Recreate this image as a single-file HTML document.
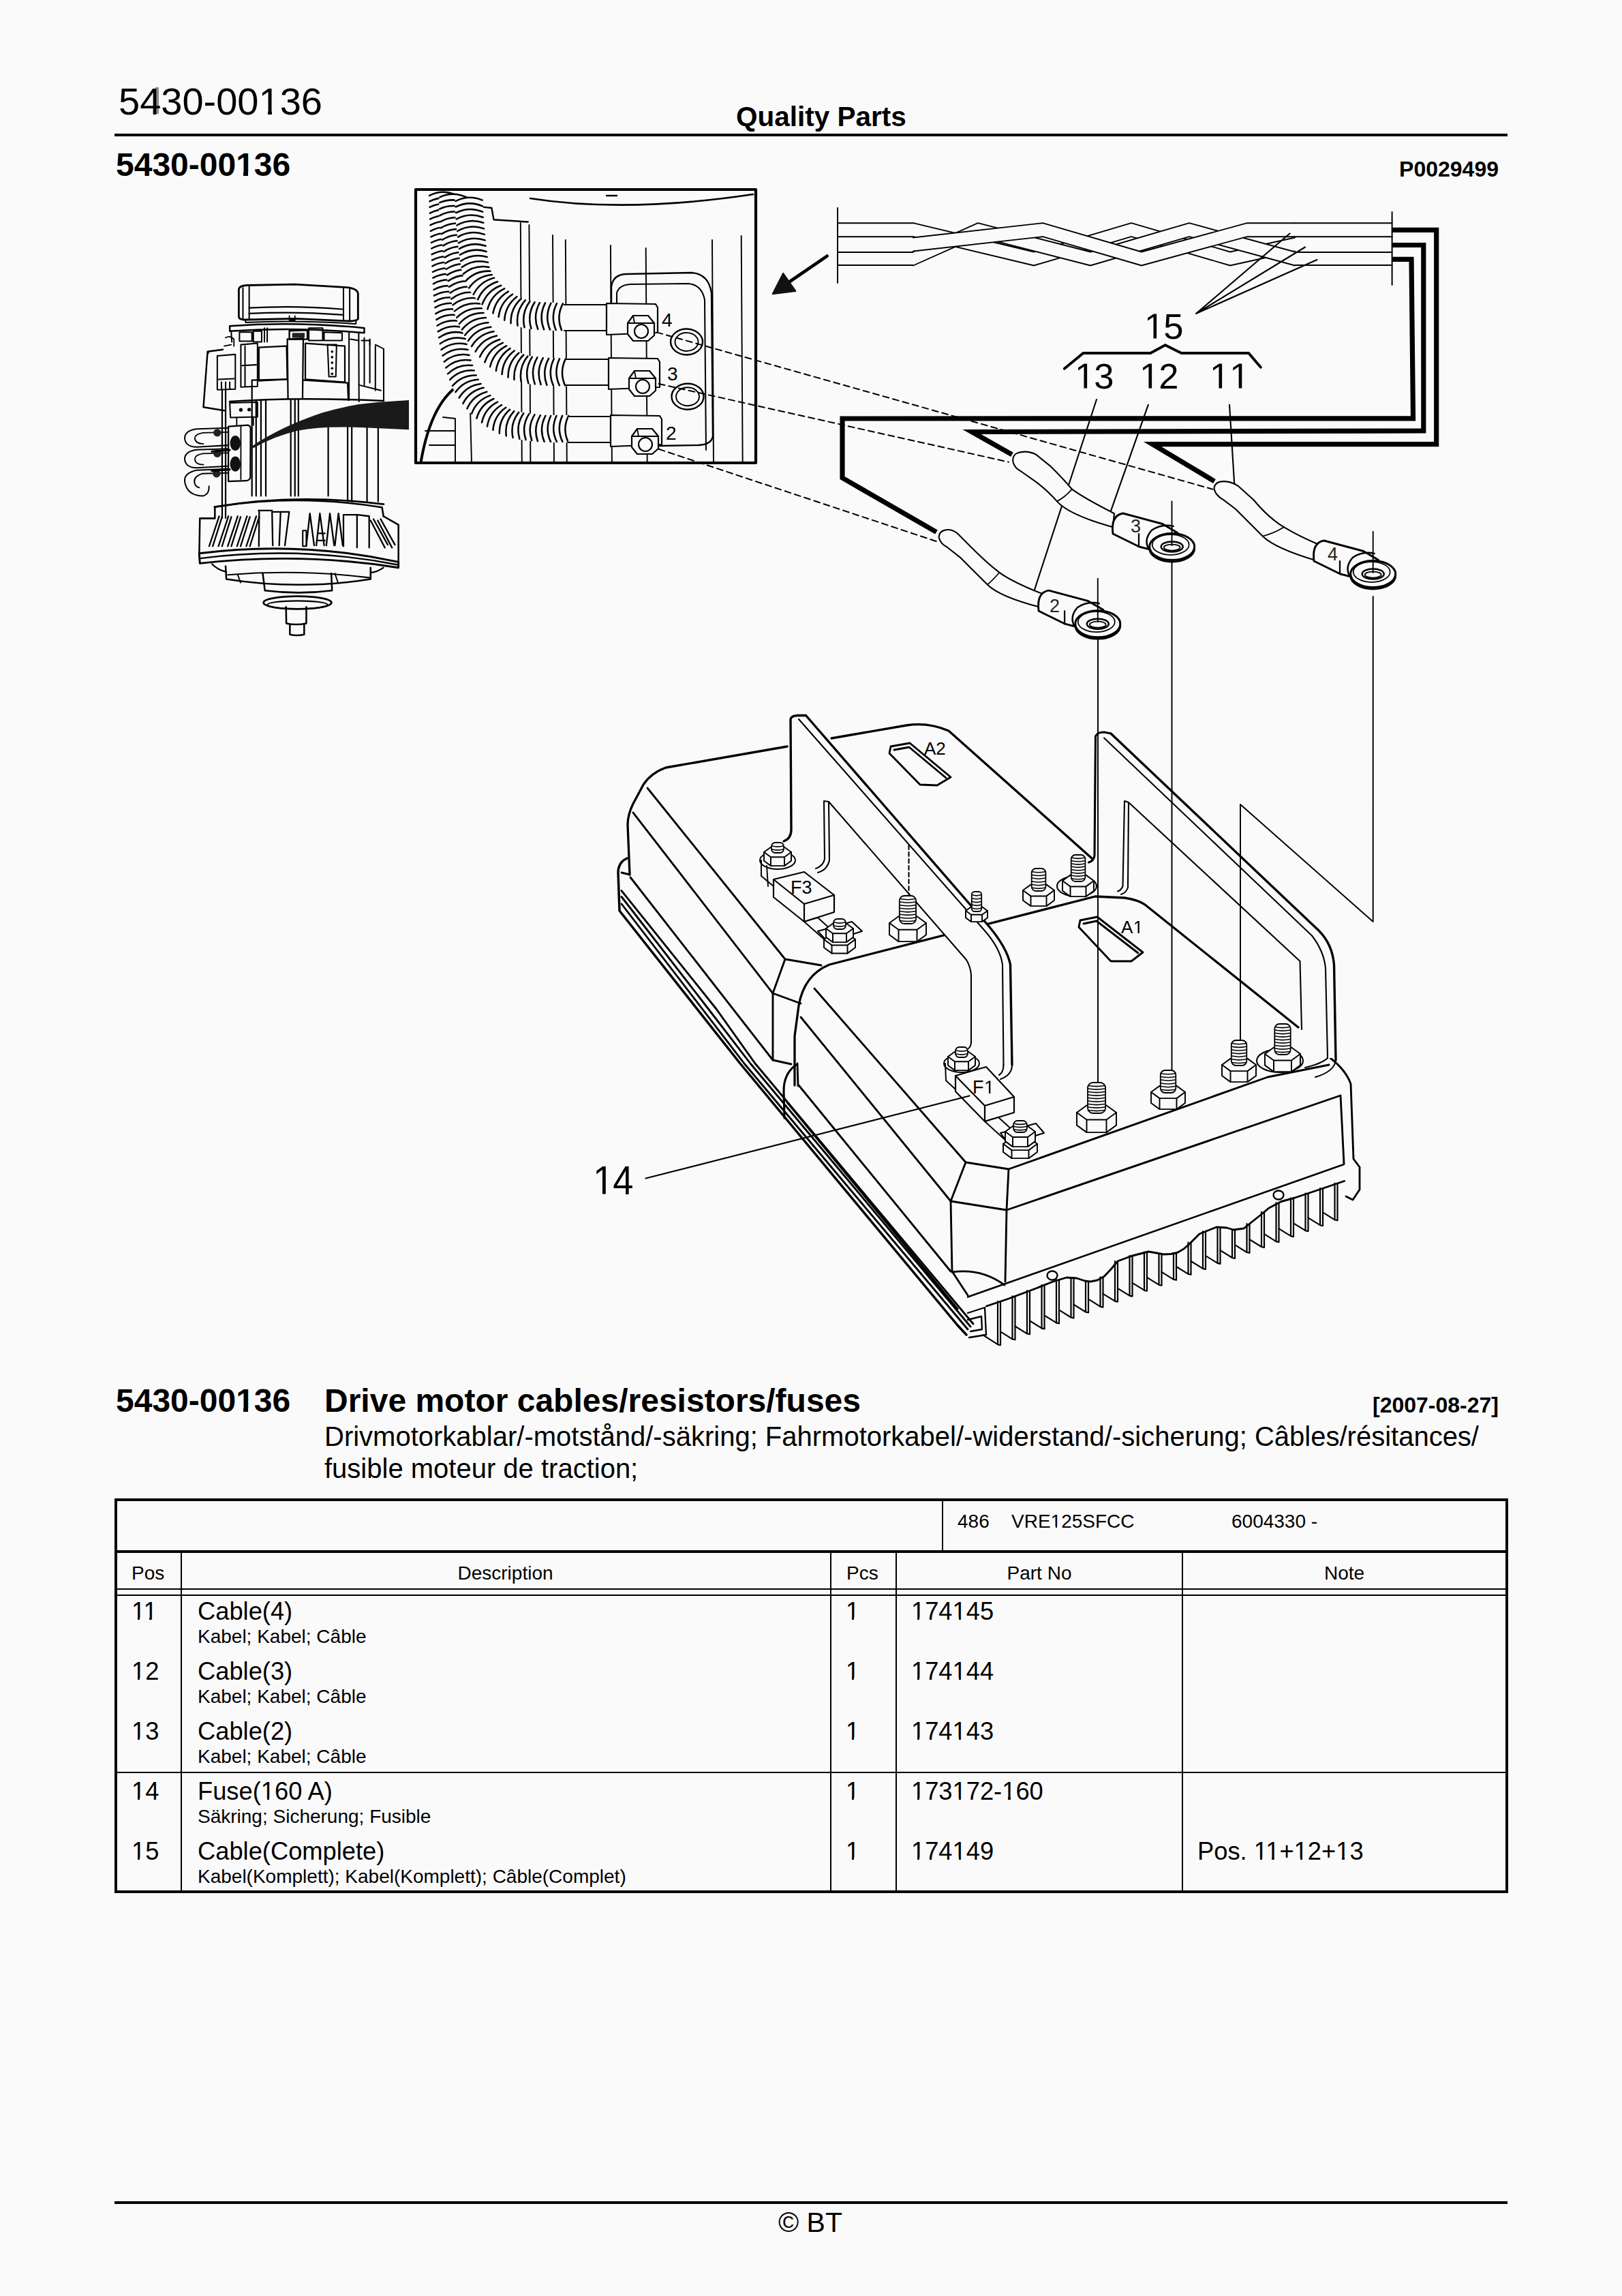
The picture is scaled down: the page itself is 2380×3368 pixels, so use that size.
<!DOCTYPE html>
<html><head><meta charset="utf-8"><title>5430-00136</title>
<style>
html,body{margin:0;padding:0;background:#fafafa;}
body{width:2380px;height:3368px;position:relative;overflow:hidden;font-family:"Liberation Sans",sans-serif;color:#000;}
.t{position:absolute;white-space:nowrap;line-height:1;}
.b{font-weight:bold;}
.m{font-size:36.3px;}
.s{font-size:28px;}
.r{position:absolute;background:#000;}
#dg{position:absolute;left:0;top:0;width:2380px;height:2000px;}
.o,.ob,.o11{position:relative;}
.o::before,.o::after,.ob::before,.ob::after,.o11::before,.o11::after{content:"";position:absolute;background:#fafafa;}
.o::before{left:0.06em;width:0.188em;top:0.815em;height:0.11em;}
.o::after{left:0.343em;width:0.19em;top:0.815em;height:0.11em;}
.o11::before{left:0.06em;width:0.188em;top:0.815em;height:0.11em;box-shadow:0.765em 0 0 #fafafa;}
.o11::after{left:0.343em;width:0.387em;top:0.815em;height:0.11em;}
.ob::before{left:0.05em;width:0.181em;top:0.788em;height:0.14em;}
.ob::after{left:0.374em;width:0.17em;top:0.788em;height:0.14em;}
</style></head><body>
<div id="art4" style="position:absolute;left:228px;top:128px;width:5px;height:39px;background:#8c8c8c;"></div>
<div class="t" id="h1" style="left:174px;top:120.5px;font-size:56px;">5430-00<span class="o">1</span>36</div>
<div class="t b" id="qp" style="left:1080px;top:150.5px;font-size:40.5px;">Quality Parts</div>
<div class="r" style="left:168px;top:196px;width:2044px;height:4px;"></div>
<div class="t b" id="h2" style="left:170px;top:218px;font-size:48px;">5430-00<span class="ob">1</span>36</div>
<div class="t b" id="pn" style="right:181px;top:232px;font-size:32px;">P0029499</div>

<svg id="dg" viewBox="0 0 2380 2000" fill="none" stroke="#000" stroke-width="2.2" stroke-linecap="round" stroke-linejoin="round">
<!-- ===== CONTROLLER ===== -->
<g id="ctrl" stroke-width="2.86">
<!-- flange / base plate band -->
<path stroke-width="3.52" d="M920 1259 Q907 1265 907 1280 L909 1336 L1086 1560 L1405 1944 L1418 1958"/>
<path d="M912 1326 L1030.5 1480 L1092 1560 L1420 1950 M912 1315.5 L1039.4 1480 L1101 1560 L1424 1946 M912 1306.6 L1051 1480 L1108 1560 L1428 1942 M912 1280 L924 1283"/>
<!-- upper housing A2 -->
<path stroke-width="3.30" d="M1155 1095 L977 1126 Q955 1134 944 1151 L929 1179 Q921 1195 921 1210 L924 1283"/>
<path stroke-width="3.30" d="M1220 1083 L1330 1064 Q1362 1059 1392 1072 L1602 1259"/>
<path d="M950 1156 L1152 1407 L1205 1416"/>
<path d="M929 1192 L1134 1457 L1175 1472"/>
<path d="M1152 1407 L1134 1457 L1134 1555 L1161 1561"/>
<path d="M925 1287 L1134 1555"/>
<!-- A2 plate -->
<path d="M1307 1095 L1335 1090 L1395 1140 L1375 1152 L1350 1151 L1305 1105 Z"/>
<path d="M1312 1100 L1334 1096 L1388 1141"/>
<text x="1356" y="1107" font-size="26" stroke="none" fill="#000" font-family="Liberation Sans">A2</text>
<!-- lower housing A1 -->
<path stroke-width="3.30" d="M1166 1592 L1166 1520 L1172 1475 Q1180 1430 1217 1415 L1607 1315 L1650 1317 Q1670 1320 1680 1327 L1905 1507"/>
<path stroke-width="3.12" d="M1168 1562 Q1150 1575 1150 1600 L1151 1640"/>
<path d="M1170 1560 L1171 1593 M1155 1617 L1405 1920"/>
<path d="M1172 1592 L1395 1865"/>
<path d="M1175 1492 L1395 1762 L1417 1705 L1195 1450"/>
<path d="M1417 1705 L1480 1715 L1477 1775 L1395 1762 L1397 1865 L1420 1900"/>
<path d="M1477 1775 L1475 1880"/>
<path d="M1480 1715 L1860 1580 L1950 1562"/>
<path d="M1477 1775 L1967 1607 L1972 1707"/>
<path d="M1952 1552 Q1975 1570 1982 1590 L1986 1700 L1995 1712 L1995 1745 L1985 1760 L1975 1755"/>
<path d="M1397 1866 Q1440 1860 1474 1885"/>
<!-- A1 plate -->
<path d="M1585 1350 L1610 1345 L1677 1397 L1660 1410 L1630 1410 L1583 1360 Z"/>
<path d="M1590 1355 L1609 1351 L1670 1398"/>
<!--A1-->
</g>

<path stroke-width="2.86" d="M1447.5 1916 L1480 1905 L1520 1890 L1545 1880 L1565 1874 L1580 1875 L1592 1879 L1600 1880 L1610 1878 L1620 1872.5 L1630 1862 L1640 1850 L1660 1842.5 L1685 1836 L1697 1838 L1707.5 1840 L1718 1839.5 L1727.5 1837.5 L1737 1832 L1745 1825 L1760 1810 L1785 1800 L1800 1801 L1810 1804 L1825 1802 L1850 1782 L1862 1772 L1880 1762.5 L1900 1757 L1930 1747 L1972.5 1732.5" />
<path stroke-width="2.47" d="M1420 1902.5 L1972 1708" />
<path stroke-width="2.21" d="M1464.0 1909.1 L1464.0 1972.2 M1468.0 1909.1 L1468.0 1973.2 L1464.0 1972.2 M1485.5 1901.4 L1485.5 1964.3 M1489.5 1901.4 L1489.5 1965.3 L1485.5 1964.3 M1507.0 1893.4 L1507.0 1956.3 M1511.0 1893.4 L1511.0 1957.3 L1507.0 1956.3 M1528.5 1885.0 L1528.5 1948.4 M1532.5 1885.0 L1532.5 1949.4 L1528.5 1948.4 M1550.0 1877.3 L1550.0 1940.4 M1554.0 1877.3 L1554.0 1941.4 L1550.0 1940.4 M1571.5 1874.7 L1571.5 1932.5 M1575.5 1874.7 L1575.5 1933.5 L1571.5 1932.5 M1593.0 1879.6 L1593.0 1924.5 M1597.0 1879.6 L1597.0 1925.5 L1593.0 1924.5 M1614.5 1873.3 L1614.5 1916.6 M1618.5 1873.3 L1618.5 1917.6 L1614.5 1916.6 M1636.0 1850.0 L1636.0 1908.6 M1640.0 1850.0 L1640.0 1909.6 L1636.0 1908.6 M1657.5 1842.1 L1657.5 1900.6 M1661.5 1842.1 L1661.5 1901.6 L1657.5 1900.6 M1679.0 1836.5 L1679.0 1892.7 M1683.0 1836.5 L1683.0 1893.7 L1679.0 1892.7 M1700.5 1839.4 L1700.5 1884.7 M1704.5 1839.4 L1704.5 1885.7 L1700.5 1884.7 M1722.0 1837.8 L1722.0 1876.8 M1726.0 1837.8 L1726.0 1877.8 L1722.0 1876.8 M1743.5 1822.5 L1743.5 1868.8 M1747.5 1822.5 L1747.5 1869.8 L1743.5 1868.8 M1765.0 1806.4 L1765.0 1860.9 M1769.0 1806.4 L1769.0 1861.9 L1765.0 1860.9 M1786.5 1800.4 L1786.5 1852.9 M1790.5 1800.4 L1790.5 1853.9 L1786.5 1852.9 M1808.0 1803.7 L1808.0 1845.0 M1812.0 1803.7 L1812.0 1846.0 L1808.0 1845.0 M1829.5 1795.2 L1829.5 1837.0 M1833.5 1795.2 L1833.5 1838.0 L1829.5 1837.0 M1851.0 1777.8 L1851.0 1829.0 M1855.0 1777.8 L1855.0 1830.0 L1851.0 1829.0 M1872.5 1764.3 L1872.5 1821.1 M1876.5 1764.3 L1876.5 1822.1 L1872.5 1821.1 M1894.0 1757.5 L1894.0 1813.1 M1898.0 1757.5 L1898.0 1814.1 L1894.0 1813.1 M1915.5 1750.5 L1915.5 1805.2 M1919.5 1750.5 L1919.5 1806.2 L1915.5 1805.2 M1937.0 1743.2 L1937.0 1797.2 M1941.0 1743.2 L1941.0 1798.2 L1937.0 1797.2 M1958.5 1735.9 L1958.5 1789.3 M1962.5 1735.9 L1962.5 1790.3 L1958.5 1789.3 " />
<path stroke-width="2.08" d="M1464.0 1972.2 L1442.0 1958.2 M1485.5 1964.3 L1468.0 1953.4 M1507.0 1956.3 L1489.5 1945.5 M1528.5 1948.4 L1511.0 1937.5 M1550.0 1940.4 L1532.5 1929.6 M1571.5 1932.5 L1554.0 1921.6 M1593.0 1924.5 L1575.5 1913.7 M1614.5 1916.6 L1597.0 1905.7 M1636.0 1908.6 L1618.5 1897.8 M1657.5 1900.6 L1640.0 1889.8 M1679.0 1892.7 L1661.5 1881.8 M1700.5 1884.7 L1683.0 1873.9 M1722.0 1876.8 L1704.5 1865.9 M1743.5 1868.8 L1726.0 1858.0 M1765.0 1860.9 L1747.5 1850.0 M1786.5 1852.9 L1769.0 1842.1 M1808.0 1845.0 L1790.5 1834.1 M1829.5 1837.0 L1812.0 1826.2 M1851.0 1829.0 L1833.5 1818.2 M1872.5 1821.1 L1855.0 1810.2 M1894.0 1813.1 L1876.5 1802.3 M1915.5 1805.2 L1898.0 1794.3 M1937.0 1797.2 L1919.5 1786.4 M1958.5 1789.3 L1941.0 1778.4 " />
<ellipse cx="1544" cy="1871" rx="7.5" ry="6.5" fill="#fafafa" stroke-width="2.34"/>
<ellipse cx="1876" cy="1753" rx="7.5" ry="6.5" fill="#fafafa" stroke-width="2.34"/>
<path stroke-width="2.34" d="M1420 1926 L1445 1918 L1447 1958 L1422 1962 M1420 1936 L1440 1931 L1441 1950 L1424 1953" />
<path stroke="none" fill="#fafafa" d="M1160 1055 Q1161 1050 1170 1049.5 L1182.5 1049.5 L1450 1357.5 Q1477.5 1390 1482.5 1415 L1485 1566 L1425 1566 L1425 1430 Q1424 1418 1418 1408 L1216 1176 L1209 1175 L1210 1260 Q1208 1270 1197 1274 L1150 1234 Q1161 1230 1161 1217 Z"/>
<path stroke-width="3.38" d="M1150 1234 Q1161 1230 1161 1217 L1160 1055 Q1161 1050 1170 1049.5 L1182.5 1049.5" />
<path stroke-width="3.38" d="M1182.5 1049.5 L1450 1357.5 Q1477.5 1390 1482.5 1415 L1485 1562" />
<path stroke-width="2.08" d="M1172 1055 L1442.5 1362.5 Q1467.5 1390 1471 1415 L1472.5 1562" />
<path stroke-width="2.08" d="M1209 1175 L1210 1260 Q1208 1270 1197 1274 M1209 1175 L1216 1176 L1217 1262 Q1214 1276 1200 1280 M1216 1176 L1418 1408 Q1424 1418 1425 1430 L1425 1530" />
<path stroke-width="2.08" d="M1333.5 1240 L1333.5 1312" stroke-dasharray="6 4"/>
<path stroke="none" fill="#fafafa" d="M1606 1255 L1607.5 1080 Q1610 1074 1620 1074 L1630 1076 L1935 1365 Q1955 1385 1957.5 1415 L1960 1552 L1950 1552 L1910 1510 L1907.5 1410 L1655 1177.5 L1650 1175 L1647.5 1300 Q1645 1306 1640 1307.5 Z"/>
<path stroke-width="3.12" d="M1597.5 1265 Q1605 1263 1606 1255 L1607.5 1080 Q1610 1074 1620 1074 L1630 1076" />
<path stroke-width="3.38" d="M1630 1076 L1935 1365 Q1955 1385 1957.5 1415 L1960 1555" />
<path stroke-width="2.08" d="M1620 1082.5 L1925 1372.5 Q1942.5 1395 1945 1420 L1948 1552" />
<path stroke-width="2.08" d="M1650 1175 L1647.5 1300 Q1645 1306 1640 1307.5 M1650 1175 L1656 1177 L1655 1302 Q1652 1310 1645 1312 M1656 1177 L1907.5 1410 L1910 1510" />
<path stroke-width="2.08" d="M1948 1552 Q1940 1560 1915 1566 M1960 1555 Q1958 1572 1930 1580" />
<path stroke-width="1.95" d="M1611 933 L1611 1590" />
<path stroke-width="1.95" d="M1719.5 822 L1719.5 1572" />
<path stroke-width="1.95" d="M2014.7 875 L2014.7 1352 L1820 1180 L1820 1527" />
<ellipse cx="1141" cy="1262" rx="26" ry="13" fill="#fafafa" stroke-width="1.95"/>
<path stroke-width="1.95" d="M1117 1262 L1117 1285 L1135 1300 M1125 1270 L1127 1300" />
<path stroke-width="1.95" fill="#fafafa" d="M1161.0 1250.0 L1161.0 1262.8 L1151.0 1270.1 L1131.0 1270.1 L1121.0 1262.8 L1121.0 1250.0 Z"/>
<path stroke-width="1.95" d="M1151.0 1257.3 L1151.0 1270.1 M1131.0 1257.3 L1131.0 1270.1"/>
<polygon stroke-width="1.95" fill="#fafafa" points="1161.0,1250.0 1151.0,1257.3 1131.0,1257.3 1121.0,1250.0 1131.0,1242.7 1151.0,1242.7"/>
<rect x="1132.0" y="1236.0" width="18.0" height="15.0" rx="5.4" fill="#fafafa" stroke-width="1.82"/>
<path stroke-width="1.56" d="M1133.0 1241.0 Q1141.0 1243.2 1149.0 1241.0 M1133.0 1246.0 Q1141.0 1248.2 1149.0 1246.0 "/>
<path stroke-width="2.21" fill="#fafafa" d="M1135 1290 L1180 1279 L1224 1313 L1180 1326 Z M1180 1326 L1224 1313 L1224 1338 L1180 1352 Z M1135 1290 L1180 1326 L1180 1352 L1135 1316 Z"/>
<text x="1160" y="1311" font-size="27" stroke="none" fill="#000" font-family="Liberation Sans">F3</text>
<path stroke-width="1.95" fill="#fafafa" d="M1180 1352 L1200 1346 L1250 1392 L1232 1398 Z"/>
<path stroke-width="2.08" fill="#fafafa" d="M1200 1366 L1250 1352 L1265 1366 L1215 1382 Z"/>
<path stroke-width="1.95" fill="#fafafa" d="M1255.0 1378.0 L1255.0 1390.0 L1243.5 1398.4 L1220.5 1398.4 L1209.0 1390.0 L1209.0 1378.0 Z"/>
<path stroke-width="1.95" d="M1243.5 1386.4 L1243.5 1398.4 M1220.5 1386.4 L1220.5 1398.4"/>
<polygon stroke-width="1.95" fill="#fafafa" points="1255.0,1378.0 1243.5,1386.4 1220.5,1386.4 1209.0,1378.0 1220.5,1369.6 1243.5,1369.6"/>
<path stroke-width="1.95" fill="#fafafa" d="M1252.0 1362.0 L1252.0 1374.8 L1242.0 1382.1 L1222.0 1382.1 L1212.0 1374.8 L1212.0 1362.0 Z"/>
<path stroke-width="1.95" d="M1242.0 1369.3 L1242.0 1382.1 M1222.0 1369.3 L1222.0 1382.1"/>
<polygon stroke-width="1.95" fill="#fafafa" points="1252.0,1362.0 1242.0,1369.3 1222.0,1369.3 1212.0,1362.0 1222.0,1354.7 1242.0,1354.7"/>
<rect x="1223.0" y="1348.0" width="18.0" height="15.0" rx="5.4" fill="#fafafa" stroke-width="1.82"/>
<path stroke-width="1.56" d="M1224.0 1353.0 Q1232.0 1355.2 1240.0 1353.0 M1224.0 1358.0 Q1232.0 1360.2 1240.0 1358.0 "/>
<ellipse cx="1411" cy="1560" rx="26" ry="13" fill="#fafafa" stroke-width="1.95"/>
<path stroke-width="1.95" d="M1387 1560 L1388 1585 L1402 1598" />
<path stroke-width="1.95" fill="#fafafa" d="M1431.0 1550.0 L1431.0 1562.8 L1421.0 1570.1 L1401.0 1570.1 L1391.0 1562.8 L1391.0 1550.0 Z"/>
<path stroke-width="1.95" d="M1421.0 1557.3 L1421.0 1570.1 M1401.0 1557.3 L1401.0 1570.1"/>
<polygon stroke-width="1.95" fill="#fafafa" points="1431.0,1550.0 1421.0,1557.3 1401.0,1557.3 1391.0,1550.0 1401.0,1542.7 1421.0,1542.7"/>
<rect x="1402.0" y="1536.0" width="18.0" height="15.0" rx="5.4" fill="#fafafa" stroke-width="1.82"/>
<path stroke-width="1.56" d="M1403.0 1541.0 Q1411.0 1543.2 1419.0 1541.0 M1403.0 1546.0 Q1411.0 1548.2 1419.0 1546.0 "/>
<path stroke-width="2.21" fill="#fafafa" d="M1402 1578 L1447 1565 L1488 1609 L1445 1622 Z M1445 1622 L1488 1609 L1488 1632 L1445 1645 Z M1402 1578 L1445 1622 L1445 1645 L1402 1601 Z"/>
<text x="1427.00" y="1604" font-size="27" stroke="none" fill="#000" font-family="Liberation Sans">F</text>
<path d="M1450.94 1604.00 L1450.94 1587.69 L1446.62 1590.68 L1446.62 1588.44 L1451.14 1585.42 L1453.33 1585.42 L1453.33 1604.00 Z" fill="#000" stroke="none"/>
<path stroke-width="1.95" fill="#fafafa" d="M1445 1645 L1465 1639 L1510 1680 L1490 1686 Z"/>
<path stroke-width="2.08" fill="#fafafa" d="M1468 1662 L1520 1648 L1532 1662 L1480 1678 Z"/>
<path stroke-width="1.95" fill="#fafafa" d="M1522.0 1678.0 L1522.0 1690.0 L1509.5 1699.1 L1484.5 1699.1 L1472.0 1690.0 L1472.0 1678.0 Z"/>
<path stroke-width="1.95" d="M1509.5 1687.1 L1509.5 1699.1 M1484.5 1687.1 L1484.5 1699.1"/>
<polygon stroke-width="1.95" fill="#fafafa" points="1522.0,1678.0 1509.5,1687.1 1484.5,1687.1 1472.0,1678.0 1484.5,1668.9 1509.5,1668.9"/>
<path stroke-width="1.95" fill="#fafafa" d="M1519.0 1660.0 L1519.0 1674.1 L1508.0 1682.1 L1486.0 1682.1 L1475.0 1674.1 L1475.0 1660.0 Z"/>
<path stroke-width="1.95" d="M1508.0 1668.0 L1508.0 1682.1 M1486.0 1668.0 L1486.0 1682.1"/>
<polygon stroke-width="1.95" fill="#fafafa" points="1519.0,1660.0 1508.0,1668.0 1486.0,1668.0 1475.0,1660.0 1486.0,1652.0 1508.0,1652.0"/>
<rect x="1487.1" y="1644.0" width="19.8" height="17.0" rx="5.9" fill="#fafafa" stroke-width="1.82"/>
<path stroke-width="1.56" d="M1488.1 1648.2 Q1497.0 1650.5 1505.9 1648.2 M1488.1 1652.5 Q1497.0 1654.7 1505.9 1652.5 M1488.1 1656.8 Q1497.0 1659.0 1505.9 1656.8 "/>
<path stroke-width="1.95" fill="#fafafa" d="M1638.0 1632.0 L1638.0 1650.6 L1623.5 1661.1 L1594.5 1661.1 L1580.0 1650.6 L1580.0 1632.0 Z"/>
<path stroke-width="1.95" d="M1623.5 1642.5 L1623.5 1661.1 M1594.5 1642.5 L1594.5 1661.1"/>
<polygon stroke-width="1.95" fill="#fafafa" points="1638.0,1632.0 1623.5,1642.5 1594.5,1642.5 1580.0,1632.0 1594.5,1621.5 1623.5,1621.5"/>
<rect x="1596.0" y="1588.0" width="26.1" height="45.0" rx="7.8" fill="#fafafa" stroke-width="1.82"/>
<path stroke-width="1.56" d="M1597.0 1592.5 Q1609.0 1594.7 1621.0 1592.5 M1597.0 1597.0 Q1609.0 1599.2 1621.0 1597.0 M1597.0 1601.5 Q1609.0 1603.7 1621.0 1601.5 M1597.0 1606.0 Q1609.0 1608.2 1621.0 1606.0 M1597.0 1610.5 Q1609.0 1612.7 1621.0 1610.5 M1597.0 1615.0 Q1609.0 1617.2 1621.0 1615.0 M1597.0 1619.5 Q1609.0 1621.7 1621.0 1619.5 M1597.0 1624.0 Q1609.0 1626.2 1621.0 1624.0 M1597.0 1628.5 Q1609.0 1630.7 1621.0 1628.5 "/>
<path stroke-width="1.95" fill="#fafafa" d="M1739.0 1602.0 L1739.0 1618.0 L1726.5 1627.1 L1701.5 1627.1 L1689.0 1618.0 L1689.0 1602.0 Z"/>
<path stroke-width="1.95" d="M1726.5 1611.1 L1726.5 1627.1 M1701.5 1611.1 L1701.5 1627.1"/>
<polygon stroke-width="1.95" fill="#fafafa" points="1739.0,1602.0 1726.5,1611.1 1701.5,1611.1 1689.0,1602.0 1701.5,1592.9 1726.5,1592.9"/>
<rect x="1702.8" y="1570.0" width="22.5" height="33.0" rx="6.8" fill="#fafafa" stroke-width="1.82"/>
<path stroke-width="1.56" d="M1703.8 1574.7 Q1714.0 1576.9 1724.2 1574.7 M1703.8 1579.4 Q1714.0 1581.6 1724.2 1579.4 M1703.8 1584.1 Q1714.0 1586.3 1724.2 1584.1 M1703.8 1588.9 Q1714.0 1591.1 1724.2 1588.9 M1703.8 1593.6 Q1714.0 1595.8 1724.2 1593.6 M1703.8 1598.3 Q1714.0 1600.5 1724.2 1598.3 "/>
<path stroke-width="1.95" fill="#fafafa" d="M1843.0 1562.0 L1843.0 1578.0 L1830.5 1587.1 L1805.5 1587.1 L1793.0 1578.0 L1793.0 1562.0 Z"/>
<path stroke-width="1.95" d="M1830.5 1571.1 L1830.5 1587.1 M1805.5 1571.1 L1805.5 1587.1"/>
<polygon stroke-width="1.95" fill="#fafafa" points="1843.0,1562.0 1830.5,1571.1 1805.5,1571.1 1793.0,1562.0 1805.5,1552.9 1830.5,1552.9"/>
<rect x="1806.8" y="1526.0" width="22.5" height="37.0" rx="6.8" fill="#fafafa" stroke-width="1.82"/>
<path stroke-width="1.56" d="M1807.8 1530.6 Q1818.0 1532.8 1828.2 1530.6 M1807.8 1535.2 Q1818.0 1537.5 1828.2 1535.2 M1807.8 1539.9 Q1818.0 1542.1 1828.2 1539.9 M1807.8 1544.5 Q1818.0 1546.7 1828.2 1544.5 M1807.8 1549.1 Q1818.0 1551.3 1828.2 1549.1 M1807.8 1553.8 Q1818.0 1556.0 1828.2 1553.8 M1807.8 1558.4 Q1818.0 1560.6 1828.2 1558.4 "/>
<ellipse cx="1878" cy="1556" rx="34" ry="17" fill="#fafafa" stroke-width="2.08"/>
<path stroke-width="1.95" fill="#fafafa" d="M1908.0 1546.0 L1908.0 1562.6 L1895.0 1572.1 L1869.0 1572.1 L1856.0 1562.6 L1856.0 1546.0 Z"/>
<path stroke-width="1.95" d="M1895.0 1555.5 L1895.0 1572.1 M1869.0 1555.5 L1869.0 1572.1"/>
<polygon stroke-width="1.95" fill="#fafafa" points="1908.0,1546.0 1895.0,1555.5 1869.0,1555.5 1856.0,1546.0 1869.0,1536.5 1895.0,1536.5"/>
<rect x="1870.3" y="1502.0" width="23.4" height="45.0" rx="7.0" fill="#fafafa" stroke-width="1.82"/>
<path stroke-width="1.56" d="M1871.3 1506.5 Q1882.0 1508.7 1892.7 1506.5 M1871.3 1511.0 Q1882.0 1513.2 1892.7 1511.0 M1871.3 1515.5 Q1882.0 1517.7 1892.7 1515.5 M1871.3 1520.0 Q1882.0 1522.2 1892.7 1520.0 M1871.3 1524.5 Q1882.0 1526.7 1892.7 1524.5 M1871.3 1529.0 Q1882.0 1531.2 1892.7 1529.0 M1871.3 1533.5 Q1882.0 1535.7 1892.7 1533.5 M1871.3 1538.0 Q1882.0 1540.2 1892.7 1538.0 M1871.3 1542.5 Q1882.0 1544.7 1892.7 1542.5 "/>
<path stroke-width="1.95" fill="#fafafa" d="M1547.0 1306.0 L1547.0 1320.7 L1535.5 1329.1 L1512.5 1329.1 L1501.0 1320.7 L1501.0 1306.0 Z"/>
<path stroke-width="1.95" d="M1535.5 1314.4 L1535.5 1329.1 M1512.5 1314.4 L1512.5 1329.1"/>
<polygon stroke-width="1.95" fill="#fafafa" points="1547.0,1306.0 1535.5,1314.4 1512.5,1314.4 1501.0,1306.0 1512.5,1297.6 1535.5,1297.6"/>
<rect x="1513.7" y="1274.0" width="20.7" height="33.0" rx="6.2" fill="#fafafa" stroke-width="1.82"/>
<path stroke-width="1.56" d="M1514.7 1278.7 Q1524.0 1280.9 1533.3 1278.7 M1514.7 1283.4 Q1524.0 1285.6 1533.3 1283.4 M1514.7 1288.1 Q1524.0 1290.3 1533.3 1288.1 M1514.7 1292.9 Q1524.0 1295.1 1533.3 1292.9 M1514.7 1297.6 Q1524.0 1299.8 1533.3 1297.6 M1514.7 1302.3 Q1524.0 1304.5 1533.3 1302.3 "/>
<ellipse cx="1580" cy="1300" rx="29" ry="15" fill="#fafafa" stroke-width="2.08"/>
<path stroke-width="1.95" fill="#fafafa" d="M1605.0 1292.0 L1605.0 1306.7 L1593.5 1315.1 L1570.5 1315.1 L1559.0 1306.7 L1559.0 1292.0 Z"/>
<path stroke-width="1.95" d="M1593.5 1300.4 L1593.5 1315.1 M1570.5 1300.4 L1570.5 1315.1"/>
<polygon stroke-width="1.95" fill="#fafafa" points="1605.0,1292.0 1593.5,1300.4 1570.5,1300.4 1559.0,1292.0 1570.5,1283.6 1593.5,1283.6"/>
<rect x="1571.7" y="1254.0" width="20.7" height="39.0" rx="6.2" fill="#fafafa" stroke-width="1.82"/>
<path stroke-width="1.56" d="M1572.7 1258.3 Q1582.0 1260.5 1591.3 1258.3 M1572.7 1262.7 Q1582.0 1264.9 1591.3 1262.7 M1572.7 1267.0 Q1582.0 1269.2 1591.3 1267.0 M1572.7 1271.3 Q1582.0 1273.5 1591.3 1271.3 M1572.7 1275.7 Q1582.0 1277.9 1591.3 1275.7 M1572.7 1280.0 Q1582.0 1282.2 1591.3 1280.0 M1572.7 1284.3 Q1582.0 1286.5 1591.3 1284.3 M1572.7 1288.7 Q1582.0 1290.9 1591.3 1288.7 "/>
<path stroke-width="1.95" fill="#fafafa" d="M1449.0 1336.0 L1449.0 1346.2 L1441.0 1352.1 L1425.0 1352.1 L1417.0 1346.2 L1417.0 1336.0 Z"/>
<path stroke-width="1.95" d="M1441.0 1341.8 L1441.0 1352.1 M1425.0 1341.8 L1425.0 1352.1"/>
<polygon stroke-width="1.95" fill="#fafafa" points="1449.0,1336.0 1441.0,1341.8 1425.0,1341.8 1417.0,1336.0 1425.0,1330.2 1441.0,1330.2"/>
<rect x="1425.8" y="1308.0" width="14.4" height="29.0" rx="4.3" fill="#fafafa" stroke-width="1.82"/>
<path stroke-width="1.56" d="M1426.8 1312.8 Q1433.0 1315.0 1439.2 1312.8 M1426.8 1317.7 Q1433.0 1319.9 1439.2 1317.7 M1426.8 1322.5 Q1433.0 1324.7 1439.2 1322.5 M1426.8 1327.3 Q1433.0 1329.5 1439.2 1327.3 M1426.8 1332.2 Q1433.0 1334.4 1439.2 1332.2 "/>
<path stroke-width="1.95" fill="#fafafa" d="M1359.0 1354.0 L1359.0 1371.3 L1345.5 1381.1 L1318.5 1381.1 L1305.0 1371.3 L1305.0 1354.0 Z"/>
<path stroke-width="1.95" d="M1345.5 1363.8 L1345.5 1381.1 M1318.5 1363.8 L1318.5 1381.1"/>
<polygon stroke-width="1.95" fill="#fafafa" points="1359.0,1354.0 1345.5,1363.8 1318.5,1363.8 1305.0,1354.0 1318.5,1344.2 1345.5,1344.2"/>
<rect x="1319.8" y="1314.0" width="24.3" height="41.0" rx="7.3" fill="#fafafa" stroke-width="1.82"/>
<path stroke-width="1.56" d="M1320.8 1318.6 Q1332.0 1320.8 1343.2 1318.6 M1320.8 1323.1 Q1332.0 1325.3 1343.2 1323.1 M1320.8 1327.7 Q1332.0 1329.9 1343.2 1327.7 M1320.8 1332.2 Q1332.0 1334.4 1343.2 1332.2 M1320.8 1336.8 Q1332.0 1339.0 1343.2 1336.8 M1320.8 1341.3 Q1332.0 1343.5 1343.2 1341.3 M1320.8 1345.9 Q1332.0 1348.1 1343.2 1345.9 M1320.8 1350.4 Q1332.0 1352.6 1343.2 1350.4 "/>
<text x="1645.00" y="1369" font-size="26" stroke="none" fill="#000" font-family="Liberation Sans">A</text>
<path d="M1669.51 1369.00 L1669.51 1353.30 L1665.35 1356.18 L1665.35 1354.02 L1669.71 1351.11 L1671.81 1351.11 L1671.81 1369.00 Z" fill="#000" stroke="none"/>
<path stroke-width="2.08" d="M1472.5 1562 Q1472.5 1573 1466 1577 M1485 1562 Q1485 1577 1468 1583 M1425 1528 Q1425 1535 1421 1538" />
<path stroke-width="2.21" d="M947.5 1728.5 L1422.5 1607.5" />
<path d="M883.97 1751.50 L883.97 1715.86 L875.28 1722.40 L875.28 1717.51 L884.37 1710.91 L888.77 1710.91 L888.77 1751.50 Z" fill="#000" stroke="none"/>
<text transform="translate(899.19 1751.5) scale(0.92 1)" font-size="59" stroke="none" fill="#000" font-family="Liberation Sans">4</text>
<defs><clipPath id="ic"><rect x="612" y="280" width="495" height="397"/></clipPath></defs>
<g clip-path="url(#ic)">
<path stroke-width="2.64" d="M778 291 Q919 313 1105 285" />
<path stroke-width="2.40" d="M705.6 303.4 L721.4 305 L724.5 322.3 L774.8 325.5" />
<path stroke-width="2.40" d="M890 287 L905 287" />
<path stroke-width="1.92" d="M763.8 327 L765.8 680" />
<path stroke-width="1.92" d="M776.4 330 L778.4 680" />
<path stroke-width="1.92" d="M811 345 L813 680" />
<path stroke-width="1.92" d="M829.8 352 L831.8 680" />
<path stroke-width="1.92" d="M895.9 360 L897.9 680" />
<path stroke-width="1.92" d="M947.7 364 L949.7 680" />
<path stroke-width="1.92" d="M1045 352 L1047 680" />
<path stroke-width="1.92" d="M1087.7 346 L1089.7 680" />
<path stroke-width="2.40" d="M897 445 L897 420 Q900 402 920 402 L1015 400 Q1040 402 1044 430 L1046 640 Q1044 652 1025 653 L968 654" />
<path stroke-width="2.04" d="M905 455 L905 430 Q908 418 925 417 L1010 416 Q1030 418 1034 440 L1036 660" />
<path stroke-width="4.00" d="M617.6 677.6 Q633.3 586.4 679 561.3" />
<path stroke-width="1.92" d="M624 632 L668 632 M630 653 L668 653 M650 612 L668 614 M668 614 L668 680 M690 600 L692 680" />
<path d="M649.0 282.0 L649.1 284.8 L649.2 287.5 L649.2 290.1 L649.3 292.6 L649.4 295.0 L649.4 297.4 L649.5 299.8 L649.5 302.2 L649.6 304.6 L649.7 307.1 L649.7 309.6 L649.8 312.3 L649.9 315.1 L650.0 318.0 L650.1 321.1 L650.2 324.4 L650.4 327.9 L650.6 331.7 L650.8 335.7 L651.0 340.0 L651.2 344.7 L651.5 349.7 L651.8 355.1 L652.0 360.8 L652.3 366.8 L652.6 372.9 L652.9 379.3 L653.2 385.8 L653.6 392.4 L653.9 399.1 L654.3 405.8 L654.7 412.5 L655.1 419.1 L655.5 425.6 L655.9 432.0 L656.4 438.3 L656.9 444.3 L657.4 450.1 L657.9 455.5 L658.5 460.7 L659.1 465.6 L659.7 470.4 L660.3 475.0 L660.9 479.6 L661.6 484.0 L662.3 488.3 L663.0 492.5 L663.7 496.6 L664.4 500.6 L665.2 504.5 L665.9 508.3 L666.7 512.0 L667.6 515.6 L668.4 519.1 L669.3 522.6 L670.2 526.0 L671.1 529.4 L672.0 532.6 L673.0 535.8 L674.0 539.0 L675.0 542.1 L676.0 545.0 L677.1 547.9 L678.1 550.6 L679.2 553.3 L680.3 555.9 L681.4 558.4 L682.5 560.8 L683.7 563.1 L684.9 565.4 L686.1 567.6 L687.4 569.8 L688.7 571.9 L690.0 574.0 L691.4 576.0 L692.8 578.1 L694.3 580.1 L695.8 582.0 L697.4 584.0 L699.0 586.0 L700.7 588.0 L702.4 589.9 L704.2 591.8 L706.0 593.7 L707.9 595.6 L709.8 597.4 L711.8 599.2 L713.8 600.9 L715.9 602.6 L717.9 604.3 L720.0 605.9 L722.2 607.5 L724.3 609.0 L726.5 610.5 L728.7 611.9 L731.0 613.2 L733.2 614.5 L735.5 615.8 L737.7 616.9 L740.0 618.0 L742.3 619.0 L744.7 619.9 L747.1 620.8 L749.5 621.6 L752.0 622.3 L754.5 622.9 L757.1 623.5 L759.6 624.0 L762.2 624.5 L764.8 624.9 L767.4 625.3 L770.0 625.7 L772.6 626.0 L775.2 626.4 L777.7 626.6 L780.2 626.9 L782.7 627.2 L785.2 627.5 L787.6 627.7 L790.0 628.0 L792.3 628.3 L794.6 628.5 L796.9 628.6 L799.2 628.8 L801.4 628.9 L803.6 629.0 L805.8 629.0 L808.0 629.0 L810.2 629.1 L812.4 629.1 L814.5 629.1 L816.7 629.0 L818.8 629.0 L821.0 629.0 L823.1 629.0 L825.3 628.9 L827.5 628.9 L829.6 628.9 L831.8 629.0 L834.0 629.0" stroke="#fafafa" stroke-width="40" stroke-linecap="butt"/>
<path d="M630.1 286.9 Q648.9 277.3 668.1 285.7 M630.4 295.4 Q649.1 285.9 668.4 294.4 M630.6 303.9 Q649.4 294.5 668.6 303.0 M630.8 312.7 Q649.5 303.1 668.8 311.5 M631.1 321.4 Q649.8 311.7 669.1 320.0 M631.5 330.2 Q650.0 320.3 669.4 328.4 M631.9 338.9 Q650.4 328.9 669.9 336.9 M632.4 347.4 Q650.9 337.5 670.3 345.5 M632.8 356.0 Q651.3 346.1 670.7 354.1 M633.2 364.5 Q651.7 354.6 671.1 362.7 M633.6 373.1 Q652.1 363.2 671.5 371.3 M634.0 381.7 Q652.5 371.8 672.0 379.9 M634.4 390.4 Q652.9 380.4 672.4 388.4 M634.9 399.0 Q653.4 389.0 672.8 397.0 M635.4 407.7 Q653.8 397.6 673.3 405.5 M635.9 416.3 Q654.3 406.2 673.8 414.0 M636.4 425.0 Q654.8 414.8 674.3 422.5 M637.0 433.7 Q655.3 423.4 674.9 430.9 M637.7 442.4 Q655.9 431.9 675.6 439.4 M638.4 451.2 Q656.6 440.5 676.3 447.8 M639.3 460.1 Q657.2 449.1 677.1 456.0 M640.4 468.9 Q658.1 457.6 678.1 464.2 M641.5 477.7 Q659.1 466.2 679.1 472.5 M642.7 486.4 Q660.2 474.7 680.3 480.8 M644.1 495.2 Q661.4 483.2 681.6 489.0 M645.7 504.2 Q662.7 491.7 683.1 497.0 M647.5 513.0 Q664.2 500.2 684.7 505.0 M649.5 521.8 Q665.9 508.6 686.5 513.0 M651.7 530.6 Q667.8 517.0 688.5 520.9 M654.3 539.5 Q669.8 525.4 690.6 528.5 M657.1 548.4 Q672.1 533.7 693.0 536.0 M660.2 557.1 Q674.8 541.9 695.7 543.5 M664.0 566.0 Q677.7 550.0 698.7 550.4 M668.5 575.1 Q680.8 558.0 701.8 556.7 M673.6 583.5 Q684.7 565.7 705.6 563.0 M679.4 591.9 Q689.0 573.2 709.6 568.8 M685.4 599.4 Q694.0 580.2 714.3 574.7 M692.1 606.6 Q699.4 586.9 719.3 580.1 M699.4 613.6 Q705.1 593.4 724.4 585.0 M707.0 619.8 Q711.4 599.3 730.1 589.7 M714.9 625.6 Q718.0 604.8 736.1 594.0 M723.4 630.8 Q725.0 609.8 742.3 597.8 M732.9 635.6 Q732.3 614.6 748.1 600.8 M742.8 639.4 Q740.0 618.5 754.3 603.1 M752.6 642.0 Q748.1 621.4 761.1 604.9 M762.4 643.8 Q756.4 623.6 768.2 606.2 M771.5 645.1 Q764.9 625.1 776.1 607.3 M780.3 646.0 Q773.4 626.2 784.4 608.3 M788.9 647.0 Q782.0 627.1 793.0 609.2 M798.6 647.8 Q790.5 628.4 800.4 609.8 M808.0 648.0 Q799.1 629.0 808.2 610.0 M816.9 648.0 Q807.7 629.1 816.5 610.0 M825.4 647.9 Q816.3 629.0 825.1 609.9 M833.5 648.0 Q824.9 628.8 834.2 610.0 " stroke-width="2.52"/>
<path d="M665.0 285.0 L665.0 287.2 L665.0 289.3 L665.0 291.2 L665.0 293.1 L664.9 295.0 L664.9 296.8 L664.8 298.6 L664.8 300.4 L664.7 302.2 L664.7 304.1 L664.6 306.1 L664.6 308.1 L664.7 310.3 L664.7 312.5 L664.8 315.0 L664.9 317.5 L665.1 320.3 L665.4 323.3 L665.6 326.5 L666.0 330.0 L666.4 333.8 L666.9 337.9 L667.4 342.4 L668.0 347.2 L668.7 352.2 L669.3 357.4 L670.0 362.7 L670.8 368.2 L671.6 373.8 L672.3 379.4 L673.2 385.0 L674.0 390.6 L674.8 396.0 L675.7 401.4 L676.5 406.6 L677.3 411.7 L678.1 416.5 L678.9 421.0 L679.7 425.2 L680.5 429.0 L681.2 432.5 L682.0 435.8 L682.6 438.9 L683.3 441.8 L684.0 444.5 L684.7 447.1 L685.3 449.5 L686.0 451.8 L686.7 454.0 L687.4 456.1 L688.1 458.2 L688.8 460.1 L689.6 462.1 L690.4 464.0 L691.2 465.9 L692.1 467.8 L693.0 469.8 L693.9 471.8 L694.9 473.8 L696.0 476.0 L697.1 478.2 L698.3 480.4 L699.5 482.7 L700.7 484.9 L702.0 487.1 L703.3 489.3 L704.7 491.6 L706.0 493.7 L707.4 495.9 L708.9 498.1 L710.3 500.2 L711.8 502.3 L713.3 504.3 L714.9 506.3 L716.4 508.2 L718.0 510.1 L719.6 511.9 L721.2 513.7 L722.9 515.4 L724.5 517.0 L726.2 518.5 L727.9 520.0 L729.6 521.5 L731.4 522.9 L733.2 524.2 L735.1 525.5 L736.9 526.7 L738.8 527.9 L740.7 529.1 L742.7 530.2 L744.6 531.2 L746.5 532.3 L748.5 533.2 L750.4 534.2 L752.4 535.1 L754.3 535.9 L756.3 536.7 L758.2 537.5 L760.1 538.3 L762.0 539.0 L763.9 539.7 L765.8 540.3 L767.7 540.8 L769.7 541.3 L771.6 541.7 L773.6 542.1 L775.5 542.5 L777.5 542.8 L779.4 543.1 L781.3 543.3 L783.3 543.5 L785.2 543.7 L787.1 543.9 L789.0 544.1 L790.9 544.2 L792.8 544.4 L794.6 544.5 L796.4 544.7 L798.2 544.8 L800.0 545.0 L801.7 545.2 L803.4 545.3 L805.1 545.4 L806.8 545.5 L808.4 545.6 L810.0 545.7 L811.6 545.7 L813.2 545.8 L814.8 545.8 L816.4 545.8 L817.9 545.8 L819.5 545.8 L821.0 545.8 L822.6 545.9 L824.1 545.9 L825.7 545.9 L827.3 545.9 L828.8 545.9 L830.4 546.0 L832.0 546.0" stroke="#fafafa" stroke-width="41.0" stroke-linecap="butt"/>
<path d="M645.5 289.1 Q665.1 280.3 684.5 289.5 M645.3 297.2 Q665.1 288.9 684.3 298.6 M645.1 306.5 Q664.6 297.5 684.1 306.5 M645.3 316.1 Q664.3 306.1 684.3 314.1 M646.0 325.4 Q664.6 314.7 684.8 321.9 M646.9 334.4 Q665.3 323.3 685.6 330.1 M647.9 343.1 Q666.2 331.8 686.6 338.5 M648.9 351.8 Q667.2 340.4 687.6 346.9 M650.1 360.4 Q668.2 348.9 688.7 355.3 M651.2 369.0 Q669.3 357.4 689.9 363.7 M652.4 377.6 Q670.4 366.0 691.0 372.1 M653.6 386.2 Q671.6 374.5 692.2 380.6 M654.9 394.8 Q672.8 383.0 693.5 389.0 M656.2 403.4 Q674.1 391.5 694.8 397.4 M657.6 412.1 Q675.4 400.0 696.1 405.7 M659.1 420.8 Q676.7 408.5 697.5 413.9 M660.7 429.6 Q678.1 417.0 699.0 422.0 M662.5 438.4 Q679.7 425.4 700.7 430.1 M664.6 447.3 Q681.4 433.9 702.5 438.0 M667.0 456.4 Q683.2 442.3 704.5 445.5 M670.2 465.9 Q685.3 450.7 706.7 452.3 M673.9 475.0 Q688.0 458.8 709.5 459.1 M677.9 483.5 Q691.4 466.8 712.9 466.1 M682.2 491.7 Q695.1 474.5 716.5 473.2 M687.0 500.0 Q699.0 482.2 720.3 479.8 M692.1 508.0 Q703.3 489.7 724.5 486.3 M697.6 515.8 Q707.9 496.9 728.9 492.5 M704.0 523.7 Q712.7 504.1 733.3 498.0 M711.3 531.4 Q718.0 511.0 737.8 502.8 M719.1 538.0 Q724.0 517.1 743.1 507.3 M727.8 544.0 Q730.6 522.7 748.6 511.1 M736.6 549.1 Q737.7 527.6 754.7 514.5 M745.6 553.4 Q745.2 531.9 761.3 517.7 M754.5 557.0 Q753.0 535.6 768.3 520.5 M764.8 560.2 Q760.9 539.1 774.4 522.4 M775.3 562.2 Q769.1 541.6 780.8 523.6 M784.8 563.3 Q777.6 543.0 788.4 524.4 M793.6 564.0 Q786.2 543.8 796.8 525.1 M802.4 564.8 Q794.8 544.7 805.1 525.9 M811.8 565.2 Q803.3 545.5 812.8 526.2 M820.8 565.3 Q811.9 545.8 821.0 526.3 M829.1 565.4 Q820.5 545.7 829.9 526.4 " stroke-width="2.52"/>
<path d="M688.0 290.0 L688.1 292.0 L688.2 293.9 L688.2 295.7 L688.3 297.6 L688.3 299.3 L688.4 301.1 L688.4 302.9 L688.5 304.7 L688.5 306.4 L688.6 308.2 L688.6 310.1 L688.7 312.0 L688.8 313.9 L688.9 315.9 L689.0 318.0 L689.2 320.2 L689.3 322.5 L689.5 324.9 L689.7 327.4 L690.0 330.0 L690.3 332.8 L690.6 335.8 L690.9 339.0 L691.2 342.4 L691.5 345.9 L691.9 349.5 L692.2 353.2 L692.6 357.0 L693.0 360.8 L693.4 364.6 L693.9 368.4 L694.3 372.1 L694.8 375.8 L695.3 379.4 L695.9 382.9 L696.4 386.3 L697.0 389.5 L697.7 392.6 L698.3 395.4 L699.0 398.0 L699.7 400.4 L700.5 402.6 L701.2 404.7 L702.0 406.7 L702.8 408.6 L703.7 410.3 L704.5 411.9 L705.4 413.5 L706.3 415.0 L707.3 416.4 L708.2 417.7 L709.2 419.0 L710.2 420.3 L711.3 421.5 L712.3 422.8 L713.4 424.0 L714.5 425.2 L715.7 426.4 L716.8 427.7 L718.0 429.0 L719.2 430.3 L720.5 431.6 L721.7 432.9 L723.0 434.2 L724.4 435.4 L725.8 436.6 L727.2 437.8 L728.6 439.0 L730.0 440.1 L731.5 441.2 L732.9 442.3 L734.4 443.4 L735.9 444.5 L737.4 445.5 L738.9 446.5 L740.5 447.4 L742.0 448.4 L743.5 449.3 L745.0 450.2 L746.5 451.0 L748.0 451.8 L749.4 452.6 L750.9 453.3 L752.3 454.0 L753.7 454.7 L755.1 455.4 L756.6 456.0 L758.0 456.6 L759.4 457.1 L760.9 457.7 L762.4 458.2 L763.9 458.7 L765.5 459.2 L767.1 459.6 L768.8 460.1 L770.5 460.5 L772.2 460.9 L774.1 461.3 L776.0 461.6 L778.0 462.0 L780.1 462.3 L782.3 462.6 L784.5 462.9 L786.8 463.1 L789.2 463.3 L791.6 463.5 L794.1 463.6 L796.7 463.8 L799.2 463.9 L801.8 464.0 L804.5 464.1 L807.1 464.2 L809.8 464.3 L812.4 464.4 L815.1 464.4 L817.7 464.5 L820.3 464.6 L822.9 464.7 L825.5 464.9 L828.0 465.0" stroke="#fafafa" stroke-width="41.0" stroke-linecap="butt"/>
<path d="M668.7 295.0 Q687.9 285.3 707.7 293.6 M668.9 303.4 Q688.2 293.9 707.9 302.4 M669.2 312.2 Q688.3 302.5 708.2 310.7 M669.7 321.4 Q688.5 311.1 708.6 318.8 M670.5 330.5 Q689.0 319.7 709.3 326.7 M671.3 339.0 Q689.9 328.2 710.1 335.4 M672.1 347.6 Q690.7 336.8 710.9 343.9 M672.9 356.3 Q691.4 345.4 711.7 352.4 M673.9 365.0 Q692.3 353.9 712.6 360.7 M674.9 373.8 Q693.2 362.5 713.6 369.0 M676.1 382.9 Q694.1 371.0 714.7 377.0 M677.7 392.0 Q695.2 379.6 716.0 384.9 M679.8 401.8 Q696.4 388.1 717.5 391.9 M683.2 412.3 Q698.0 396.6 719.4 397.7 M688.1 422.5 Q700.5 405.0 721.9 403.0 M694.7 432.0 Q704.3 412.8 725.1 407.6 M701.1 439.4 Q709.5 419.6 730.0 413.2 M707.6 446.4 Q715.1 426.2 735.2 418.8 M715.4 453.4 Q720.9 432.6 740.2 423.3 M723.4 459.5 Q727.3 438.4 745.8 427.6 M731.6 464.9 Q734.2 443.6 752.0 431.7 M740.2 469.7 Q741.4 448.3 758.4 435.3 M749.6 474.2 Q748.8 452.7 764.6 438.2 M759.5 477.7 Q756.6 456.5 770.8 440.4 M769.5 480.2 Q764.7 459.3 777.5 442.1 M779.4 481.9 Q773.1 461.4 784.6 443.3 M789.2 482.9 Q781.6 462.8 791.9 444.0 M798.2 483.4 Q790.1 463.5 800.0 444.4 M807.1 483.7 Q798.7 463.9 808.4 444.7 M815.7 484.0 Q807.3 464.2 817.0 445.0 M824.0 484.3 Q815.9 464.4 825.9 445.4 " stroke-width="2.52"/>
<path stroke-width="2.16" fill="#fafafa" d="M828 447 L890 447 L890 485 L828 485"/>
<path stroke-width="2.16" fill="#fafafa" d="M890 445 L962 446 L965 451 L965 488 L890 491 Z"/>
<path stroke-width="2.16" fill="#fafafa" d="M831 527 L893 527 L893 565 L831 565"/>
<path stroke-width="2.16" fill="#fafafa" d="M893 525 L965 526 L968 531 L968 568 L893 571 Z"/>
<path stroke-width="2.16" fill="#fafafa" d="M834 611 L896 611 L896 649 L834 649"/>
<path stroke-width="2.16" fill="#fafafa" d="M896 609 L968 610 L971 615 L971 652 L896 655 Z"/>
<ellipse cx="1007.5" cy="501.5" rx="23.5" ry="19" fill="none" stroke-width="2.40"/>
<ellipse cx="1007.5" cy="501.5" rx="17" ry="13.5" fill="none" stroke-width="1.92"/>
<ellipse cx="1009" cy="581.7" rx="23.5" ry="19" fill="none" stroke-width="2.40"/>
<ellipse cx="1009" cy="581.7" rx="17" ry="13.5" fill="none" stroke-width="1.92"/>
<circle cx="942" cy="484" r="13" fill="#fafafa" stroke-width="2.16"/>
<path stroke-width="2.16" fill="#fafafa" d="M921 474 L929 463 L951 463 L960 474 L960 492 L951 500 L929 500 L921 490 Z"/>
<path stroke-width="1.80" d="M921 474 L960 474 M929 463 L931 474"/>
<circle cx="941" cy="486" r="10" fill="#fafafa" stroke-width="2.16"/>
<circle cx="944" cy="565" r="13" fill="#fafafa" stroke-width="2.16"/>
<path stroke-width="2.16" fill="#fafafa" d="M923 555 L931 544 L953 544 L962 555 L962 573 L953 581 L931 581 L923 571 Z"/>
<path stroke-width="1.80" d="M923 555 L962 555 M931 544 L933 555"/>
<circle cx="943" cy="567" r="10" fill="#fafafa" stroke-width="2.16"/>
<circle cx="948" cy="650" r="13" fill="#fafafa" stroke-width="2.16"/>
<path stroke-width="2.16" fill="#fafafa" d="M927 640 L935 629 L957 629 L966 640 L966 658 L957 666 L935 666 L927 656 Z"/>
<path stroke-width="1.80" d="M927 640 L966 640 M935 629 L937 640"/>
<circle cx="947" cy="652" r="10" fill="#fafafa" stroke-width="2.16"/>
<text x="971" y="479" font-size="28" stroke="none" fill="#000" font-family="Liberation Sans">4</text>
<text x="979" y="558" font-size="28" stroke="none" fill="#000" font-family="Liberation Sans">3</text>
<text x="977" y="645" font-size="28" stroke="none" fill="#000" font-family="Liberation Sans">2</text>
</g>
<rect x="610" y="278" width="499" height="401" stroke-width="4.20" fill="none"/>
<g transform="translate(270 410) scale(0.20346)" stroke-width="11">
<path stroke-width="14" d="M395 270 L395 70 Q400 45 450 42 L800 35 L1190 58 Q1250 68 1255 100 L1255 285 Q1240 300 1190 300 L800 282 L450 290 Q398 290 395 270 Z" />
<path stroke-width="10" d="M425 60 L425 280 M470 50 L470 285 M1150 62 L1150 295 M1195 65 L1195 298" />
<path stroke-width="11" d="M470 205 Q800 185 1150 215 M470 245 Q800 228 1150 255" />
<path stroke-width="10" d="M440 290 L445 310 Q800 290 1240 320 L1240 300" />
<path stroke-width="9" d="M760 262 L760 295 L800 295 L800 262" />
<path stroke-width="12" d="M330 335 Q800 300 1300 350 L1300 385 Q800 340 330 372 Z" />
<path stroke-width="10" d="M340 372 L345 450 M600 350 L600 450 M580 350 L580 450" />
<path stroke-width="10" d="M400 380 L490 380 L490 445 L400 445 Z M500 372 L560 372 L560 450 L500 450 Z" />
<path stroke-width="10" d="M900 350 L1000 350 L1000 440 L900 440 Z M1010 380 L1140 385 L1140 440 L1010 440 Z" />
<path stroke-width="12" d="M760 370 L890 365 L890 430 L760 432 Z" />
<rect x="780" y="385" width="90" height="35" fill="#222" stroke="none"/>
<path stroke-width="11" d="M540 490 L740 480 L745 720 L540 730 Z M875 460 L1160 480 L1160 740 L875 720 Z" />
<path stroke-width="11" d="M745 430 L860 425 M745 430 L750 860 M860 425 L855 860" />
<path stroke-width="11" d="M490 725 L745 720 M860 725 L1180 745 M490 725 L490 860 M1180 745 L1185 870" />
<path stroke-width="10" d="M1190 380 L1190 870 M1260 390 L1262 880 M1300 420 L1300 760 M1340 430 L1340 745 M1380 480 L1380 800 M1440 500 L1440 870 M1260 760 L1420 800" />
<path stroke-width="9" d="M1200 430 L1260 440 M1280 440 L1340 440 L1340 470 M1380 470 L1440 500" />
<path stroke-width="10" d="M1035 470 L1100 470 L1095 700 L1045 700 Z" />
<circle cx="1068" cy="520" r="9" fill="#000" stroke="none"/>
<circle cx="1068" cy="560" r="9" fill="#000" stroke="none"/>
<circle cx="1068" cy="600" r="9" fill="#000" stroke="none"/>
<circle cx="1068" cy="640" r="9" fill="#000" stroke="none"/>
<circle cx="1068" cy="680" r="9" fill="#000" stroke="none"/>
<path stroke-width="13" d="M330 880 Q800 845 1440 875" />
<path stroke-width="12" d="M280 505 L170 520 L140 920 L290 945 M170 520 L175 530" />
<path stroke-width="10" d="M240 550 L370 540 L370 790 L240 795 Z M250 720 L360 715 M270 740 L270 790 M300 740 L300 790 M330 740 L330 790" />
<path stroke-width="10" d="M410 470 L530 460 L530 770 L410 775 Z M420 620 L520 615 M440 480 L440 770" />
<path stroke-width="9" d="M300 420 Q330 400 360 430 L360 480 M290 480 L340 470" />
<path stroke-width="11" d="M275 800 L275 1720" />
<path stroke-width="11" d="M300 800 L300 1720" />
<path stroke-width="11" d="M490 870 L490 1560" />
<path stroke-width="11" d="M520 870 L520 1560" />
<path stroke-width="11" d="M555 870 L555 1560" />
<path stroke-width="11" d="M590 870 L590 1560" />
<path stroke-width="11" d="M770 870 L770 1560" />
<path stroke-width="11" d="M800 870 L800 1560" />
<path stroke-width="11" d="M825 870 L825 1560" />
<path stroke-width="11" d="M1040 1060 L1040 1560" />
<path stroke-width="11" d="M1180 1060 L1180 1600" />
<path stroke-width="11" d="M1210 1060 L1210 1600" />
<path stroke-width="11" d="M1320 1060 L1320 1600" />
<path stroke-width="11" d="M1400 1060 L1400 1600" />
<path stroke-width="10" d="M330 890 L530 885 L530 990 L335 995 Z" />
<circle cx="410" cy="940" r="13" fill="#000" stroke="none"/><circle cx="470" cy="938" r="13" fill="#000" stroke="none"/>
<path stroke-width="9" d="M380 995 L380 1050 M500 995 L500 1050" />
<path fill="#1a1a1a" stroke="none" d="M485 1205 Q700 1060 1000 960 Q1200 900 1400 885 L1622 870 L1622 1082 L1300 1068 Q1000 1055 820 1090 Q650 1130 500 1215 Z"/>
<path stroke-width="11" d="M320 1060 L460 1050 Q480 1055 480 1075 L478 1430 Q470 1450 450 1450 L320 1455 Z" />
<path stroke-width="9" d="M410 1060 L410 1440" />
<ellipse cx="370" cy="1180" rx="38" ry="55" fill="#111" stroke="none"/><ellipse cx="370" cy="1330" rx="38" ry="55" fill="#111" stroke="none"/>
<path stroke-width="10" d="M320 1070 L90 1078 Q5 1090 5 1145 Q10 1205 90 1208 L320 1195" />
<path stroke-width="9" d="M320 1100 L135 1105 Q78 1115 78 1145 Q82 1185 140 1185" />
<circle cx="240" cy="1105" r="28" fill="#222" stroke="none"/>
<path stroke-width="10" d="M320 1220 L90 1228 Q5 1240 5 1295 Q10 1355 90 1358 L320 1345" />
<path stroke-width="9" d="M320 1250 L135 1255 Q78 1265 78 1295 Q82 1335 140 1335" />
<circle cx="240" cy="1255" r="28" fill="#222" stroke="none"/>
<path stroke-width="10" d="M320 1365 L90 1375 Q0 1395 5 1455 Q20 1560 140 1560 Q185 1545 180 1490 M320 1395 L130 1400 Q70 1420 75 1460 Q80 1495 110 1500" />
<circle cx="235" cy="1400" r="28" fill="#222" stroke="none"/>
<path stroke-width="14" d="M200 1240 L330 1230 M200 1380 L330 1370" />
<path stroke-width="13" d="M220 1640 Q800 1540 1440 1620" />
</g>
<g transform="translate(265 665) scale(0.20962)">
<path stroke-width="12" d="M240 375 L290 368 Q830 285 1410 378 L1420 440" />
<path stroke-width="12" d="M135 455 L240 455 L240 375 M135 455 L130 725 M1420 440 L1525 500 L1525 790" />
<path stroke-width="11" d="M200 650 L270 440 M225 650 L290 445 M265 650 L335 440 M290 650 L355 445 M330 650 L400 440 M355 650 L420 445 M395 650 L465 440 M420 650 L485 445 M460 650 L530 440 M485 650 L550 445 " />
<path stroke-width="11" d="M545 400 L640 400 L645 645 M550 400 L548 650 M650 410 L760 410 L730 645 M700 410 L690 645" />
<path stroke-width="11" d="M880 645 L905 420 L935 645 M950 645 L975 420 L1005 645 M1020 645 L1045 420 L1075 645 M1080 645 L1105 420 L1135 645 " />
<path stroke-width="10" d="M855 540 L880 540 L880 650 L855 650 Z M960 560 L1010 560 M960 610 L1010 610" />
<path stroke-width="11" d="M1140 430 L1235 430 L1235 660 M1140 430 L1140 650 M1240 430 L1320 440 L1320 660" />
<path stroke-width="11" d="M1330 470 L1430 660 M1350 460 L1450 640 M1380 470 L1480 660 M1400 460 L1500 640 " />
<path stroke-width="14" d="M130 700 Q830 610 1525 760 L1525 800 Q830 690 135 770 Z" />
<path stroke-width="11" d="M135 735 Q830 645 1520 780" />
<path stroke-width="11" d="M220 775 Q260 815 320 830 M1420 800 Q1380 830 1330 835" />
<path stroke-width="12" d="M315 790 L320 880 Q830 960 1330 880 L1330 800" />
<path stroke-width="10" d="M330 850 Q830 810 1320 870" />
<path stroke-width="9" d="M400 850 L420 905 M1080 840 L1100 900" />
<path stroke-width="12" d="M575 840 L590 960 Q830 990 1060 960 L1055 840" />
<ellipse cx="818" cy="1045" rx="238" ry="45" fill="#fafafa" stroke-width="13"/>
<ellipse cx="818" cy="1060" rx="210" ry="28" fill="none" stroke-width="10"/>
<path stroke-width="12" d="M738 1075 L740 1190 Q810 1205 880 1190 L880 1075" />
<path stroke-width="12" d="M765 1200 L765 1268 Q815 1280 865 1268 L865 1200" />
</g>
<path stroke-width="2.00" d="M1229 305 L1229 415" />
<path stroke-width="2.00" d="M2042.6 311 L2042.6 418" />
<path stroke-width="1.88" d="M1229 327.2 L1340 327.2 M1229 347.2 L1340 347.2 M1229 370 L1340 370 M1229 389 L1340 389" />
<path stroke-width="1.88" d="M1900 327.2 L2042.6 327.2 M1900 347.2 L2042.6 347.2 M1900 370 L2042.6 370 M1900 389 L2042.6 389" />
<path d="M1340 327.2 L1517 369.5 L1660 327.2 L1805 369.5 L1900 348.5 L1900 368.5 L1805 389.5 L1660 347.2 L1517 389.5 L1340 347.2 Z" fill="#fafafa" stroke="none"/>
<path stroke-width="1.88" d="M1340 327.2 L1517 369.5 L1660 327.2 L1805 369.5 L1900 348.5" />
<path stroke-width="1.88" d="M1340 347.2 L1517 389.5 L1660 347.2 L1805 389.5 L1900 368.5" />
<path d="M1340 369.5 L1435 327.2 L1600 369.5 L1745 327.2 L1900 369.5 L1900 389.5 L1745 347.2 L1600 389.5 L1435 347.2 L1340 389.5 Z" fill="#fafafa" stroke="none"/>
<path stroke-width="1.88" d="M1340 369.5 L1435 327.2 L1600 369.5 L1745 327.2 L1900 369.5" />
<path stroke-width="1.88" d="M1340 389.5 L1435 347.2 L1600 389.5 L1745 347.2 L1900 389.5" />
<path d="M1340 348.5 L1530 327.2 L1675 369.5 L1830 327.2 L1900 327.2 L1900 347.2 L1830 347.2 L1675 389.5 L1530 347.2 L1340 368.5 Z" fill="#fafafa" stroke="none"/>
<path stroke-width="1.88" d="M1340 348.5 L1530 327.2 L1675 369.5 L1830 327.2 L1900 327.2" />
<path stroke-width="1.88" d="M1340 368.5 L1530 347.2 L1675 389.5 L1830 347.2 L1900 347.2" />
<path stroke-width="7.2" d="M2043 337.4 L2107.7 337.4 L2107.7 651.6 L1691 651.6 L1782 706" stroke-linejoin="miter" stroke-linecap="butt"/>
<path stroke-width="7.2" d="M2043 359.5 L2088.8 359.5 L2088.8 631.9 L1426 633.5 L1485 666.8" stroke-linejoin="miter" stroke-linecap="butt"/>
<path stroke-width="7.2" d="M2043 380.3 L2071 380.3 L2073.5 613.8 L1236 614 L1236 701 L1374 780.5" stroke-linejoin="miter" stroke-linecap="butt"/>
<path d="M1692.48 496.50 L1692.48 464.79 L1684.08 470.61 L1684.08 466.25 L1692.87 460.38 L1697.12 460.38 L1697.12 496.50 Z" fill="#000" stroke="none"/>
<text x="1707.20" y="496.5" font-size="52.5" stroke="none" fill="#000" font-family="Liberation Sans">5</text>
<path d="M1590.48 569.50 L1590.48 537.79 L1582.08 543.61 L1582.08 539.25 L1590.87 533.38 L1595.12 533.38 L1595.12 569.50 Z" fill="#000" stroke="none"/>
<text x="1605.20" y="569.5" font-size="52.5" stroke="none" fill="#000" font-family="Liberation Sans">3</text>
<path d="M1685.48 569.50 L1685.48 537.79 L1677.08 543.61 L1677.08 539.25 L1685.87 533.38 L1690.12 533.38 L1690.12 569.50 Z" fill="#000" stroke="none"/>
<text x="1700.20" y="569.5" font-size="52.5" stroke="none" fill="#000" font-family="Liberation Sans">2</text>
<path d="M1788.48 569.50 L1788.48 537.79 L1780.08 543.61 L1780.08 539.25 L1788.87 533.38 L1793.12 533.38 L1793.12 569.50 Z" fill="#000" stroke="none"/>
<path d="M1817.68 569.50 L1817.68 537.79 L1809.27 543.61 L1809.27 539.25 L1818.07 533.38 L1822.32 533.38 L1822.32 569.50 Z" fill="#000" stroke="none"/>
<path stroke-width="3.80" d="M1561.8 540.7 L1589.5 518 L1688.1 518 L1709.8 506.2 L1733.5 518 L1832.1 518 L1849.9 538.8" stroke-linejoin="miter"/>
<path stroke-width="2.12" d="M1755 460 L1892.5 342.5 M1755 460 L1915 362.5 M1755 460 L1932.5 381" />
<path stroke-width="2.12" d="M1609 586 L1515.4 873 M1684.8 593.8 L1626.3 759.9 M1804 593.8 L1812.8 735.4" />
<path stroke-width="2.00" d="M963.5 487.4 L1779.5 717.7 M966.6 563 L1479.9 677.7 M966.6 658.8 L1377.8 795.4" stroke-dasharray="9 6"/>
<path stroke-width="2.12" fill="#fafafa" d="M1493 664.4 Q1506.5 660 1520 666.6 L1542 684.4 Q1560 702 1573 717.7 Q1591 731 1635 753.2 L1633 773.2 Q1568.6 755.4 1550.9 735.4 Q1537.6 720 1519.8 706.6 L1497.6 691 Q1488.7 686.6 1486.5 677.7 Q1485 668 1493 664.4 Z"/>
<path stroke-width="2.12" fill="#fafafa" d="M1386.6 777.6 Q1395.5 775.4 1404.4 782 L1426.6 804.2 Q1448.8 826.4 1466.5 839.8 Q1484.3 853 1528.7 870.8 L1526.5 890.8 Q1466.5 875.3 1448.8 857.5 Q1431 840 1408.8 817.6 L1388.9 802 Q1380 797.6 1377.8 788.7 Q1377 780 1386.6 777.6 Z"/>
<path stroke-width="2.12" fill="#fafafa" d="M1790.6 706.6 Q1803.9 704.4 1817.2 713.2 L1839.4 733.2 Q1861.6 759.8 1883.8 773.2 Q1906 786.6 1932.6 797.7 L1930.4 822 Q1870.5 804.2 1852.7 786.5 Q1835 768.7 1812.8 746.5 L1795 733.2 Q1783.9 726.6 1781.7 717.7 Q1781 709 1790.6 706.6 Z"/>
<path stroke-width="1.75" d="M1573 717.7 Q1562 730 1550.9 735.4 M1466.5 839.8 Q1456 852 1448.8 857.5 M1883.8 773.2 Q1870 782 1852.7 786.5" />
<path stroke-width="2.88" fill="#fafafa" d="M1647.7 753.0 L1705.7 768.5 L1727.7 781.4 L1685.7 805.6 L1671.7 802.0 L1633.0 783.0 Q1629.7 756.0 1647.7 753.0 Z"/>
<path d="M1685.7 805.6 Q1677.7 792.0 1689.7 778.0 Q1704.7 768.0 1721.7 772.0" stroke-width="2.50"/>
<path stroke-width="2.25" d="M1671.0 783.2 L1671.0 802.0"/>
<ellipse cx="1719.7" cy="804.5" rx="33" ry="19.5" fill="#fafafa" stroke-width="2.80"/>
<ellipse cx="1719.7" cy="802" rx="33" ry="19.5" fill="#fafafa" stroke-width="3.00"/>
<ellipse cx="1717.7" cy="799" rx="27" ry="15" fill="none" stroke-width="1.75"/>
<ellipse cx="1719.7" cy="802" rx="16" ry="7.5" fill="none" stroke-width="2.50"/>
<ellipse cx="1719.7" cy="803" rx="12" ry="4.5" fill="none" stroke-width="1.75"/>
<text x="1659" y="780.6" font-size="27" stroke="none" fill="#222" font-family="Liberation Sans">3</text>
<path stroke-width="2.88" fill="#fafafa" d="M1538.8 866.2 L1596.8 881.7 L1618.8 894.6 L1576.8 918.8 L1562.8 915.2 L1524.1 896.2 Q1520.8 869.2 1538.8 866.2 Z"/>
<path d="M1576.8 918.8 Q1568.8 905.2 1580.8 891.2 Q1595.8 881.2 1612.8 885.2" stroke-width="2.50"/>
<path stroke-width="2.25" d="M1562.1 896.4 L1562.1 915.2"/>
<ellipse cx="1610.8" cy="917.7" rx="33" ry="19.5" fill="#fafafa" stroke-width="2.80"/>
<ellipse cx="1610.8" cy="915.2" rx="33" ry="19.5" fill="#fafafa" stroke-width="3.00"/>
<ellipse cx="1608.8" cy="912.2" rx="27" ry="15" fill="none" stroke-width="1.75"/>
<ellipse cx="1610.8" cy="915.2" rx="16" ry="7.5" fill="none" stroke-width="2.50"/>
<ellipse cx="1610.8" cy="916.2" rx="12" ry="4.5" fill="none" stroke-width="1.75"/>
<text x="1540" y="897.5" font-size="27" stroke="none" fill="#222" font-family="Liberation Sans">2</text>
<path stroke-width="2.88" fill="#fafafa" d="M1942.7 793.0 L2000.7 808.5 L2022.7 821.4 L1980.7 845.6 L1966.7 842.0 L1928.0 823.0 Q1924.7 796.0 1942.7 793.0 Z"/>
<path d="M1980.7 845.6 Q1972.7 832.0 1984.7 818.0 Q1999.7 808.0 2016.7 812.0" stroke-width="2.50"/>
<path stroke-width="2.25" d="M1966.0 823.2 L1966.0 842.0"/>
<ellipse cx="2014.7" cy="844.5" rx="33" ry="19.5" fill="#fafafa" stroke-width="2.80"/>
<ellipse cx="2014.7" cy="842" rx="33" ry="19.5" fill="#fafafa" stroke-width="3.00"/>
<ellipse cx="2012.7" cy="839" rx="27" ry="15" fill="none" stroke-width="1.75"/>
<ellipse cx="2014.7" cy="842" rx="16" ry="7.5" fill="none" stroke-width="2.50"/>
<ellipse cx="2014.7" cy="843" rx="12" ry="4.5" fill="none" stroke-width="1.75"/>
<text x="1948" y="822" font-size="27" stroke="none" fill="#222" font-family="Liberation Sans">4</text>
<path stroke-width="1.88" d="M1610.8 848.6 L1610.8 912 M1719.5 735.4 L1719.5 800 M2014.7 779.8 L2014.7 840" />
<path stroke-width="4.70" d="M1213.6 375.6 L1156 415" />
<polygon points="1149.2,400.7 1133.6,431.2 1167.5,427.1" fill="#111" stroke="#111" stroke-width="1.88"/>
</svg>

<div class="t b" id="ti1" style="left:170px;top:2031px;font-size:48px;">5430-00<span class="ob">1</span>36</div>
<div class="t b" id="ti2" style="left:476px;top:2031px;font-size:48px;">Drive motor cables/resistors/fuses</div>
<div class="t b" id="dt" style="right:181px;top:2045px;font-size:32px;">[2007-08-27]</div>
<div class="t" id="st1" style="left:476px;top:2087.4px;font-size:40px;">Drivmotorkablar/-motstånd/-säkring; Fahrmotorkabel/-widerstand/-sicherung; Câbles/résitances/</div>
<div class="t" id="st2" style="left:476px;top:2133.8px;font-size:40px;">fusible moteur de traction;</div>

<!-- table -->
<div class="r" style="left:168px;top:2198px;width:2044px;height:4px;"></div>
<div class="r" style="left:168px;top:2773px;width:2044px;height:4px;"></div>
<div class="r" style="left:168px;top:2198px;width:4px;height:579px;"></div>
<div class="r" style="left:2208.5px;top:2198px;width:4px;height:579px;"></div>
<div class="r" style="left:168px;top:2274px;width:2044px;height:4px;"></div>
<div class="r" style="left:1382px;top:2200px;width:2px;height:76px;"></div>
<div class="r" style="left:168px;top:2330px;width:2044px;height:2px;"></div>
<div class="r" style="left:168px;top:2339px;width:2044px;height:2px;"></div>
<div class="r" style="left:168px;top:2599px;width:2044px;height:2px;"></div>
<div class="r" style="left:265px;top:2276px;width:2px;height:499px;"></div>
<div class="r" style="left:1218px;top:2276px;width:2px;height:499px;"></div>
<div class="r" style="left:1314px;top:2276px;width:2px;height:499px;"></div>
<div class="r" style="left:1734px;top:2276px;width:2px;height:499px;"></div>

<div class="t" style="left:1405px;top:2218px;font-size:28px;">486</div>
<div class="t" style="left:1484px;top:2218px;font-size:28px;">VRE<span class="o">1</span>25SFCC</div>
<div class="t" style="left:1807px;top:2218px;font-size:28px;">6004330 -</div>

<div class="t" style="left:193px;top:2294.3px;font-size:28px;">Pos</div>
<div class="t" style="left:266px;width:951px;text-align:center;top:2294.3px;font-size:28px;">Description</div>
<div class="t" style="left:1242px;top:2294.3px;font-size:28px;">Pcs</div>
<div class="t" style="left:1316px;width:418px;text-align:center;top:2294.3px;font-size:28px;">Part No</div>
<div class="t" style="left:1736px;width:473px;text-align:center;top:2294.3px;font-size:28px;">Note</div>

<div class="t m" style="left:193px;top:2346.3px;"><span class="o11">11</span></div>
<div class="t m" style="left:290px;top:2346.3px;">Cable(4)</div>
<div class="t s" style="left:290px;top:2387.3px;">Kabel; Kabel; Câble</div>
<div class="t m" style="left:1241px;top:2346.3px;"><span class="o">1</span></div>
<div class="t m" style="left:1337px;top:2346.3px;"><span class="o">1</span>74<span class="o">1</span>45</div>
<div class="t m" style="left:193px;top:2434.3px;"><span class="o">1</span>2</div>
<div class="t m" style="left:290px;top:2434.3px;">Cable(3)</div>
<div class="t s" style="left:290px;top:2475.3px;">Kabel; Kabel; Câble</div>
<div class="t m" style="left:1241px;top:2434.3px;"><span class="o">1</span></div>
<div class="t m" style="left:1337px;top:2434.3px;"><span class="o">1</span>74<span class="o">1</span>44</div>
<div class="t m" style="left:193px;top:2522.3px;"><span class="o">1</span>3</div>
<div class="t m" style="left:290px;top:2522.3px;">Cable(2)</div>
<div class="t s" style="left:290px;top:2563.3px;">Kabel; Kabel; Câble</div>
<div class="t m" style="left:1241px;top:2522.3px;"><span class="o">1</span></div>
<div class="t m" style="left:1337px;top:2522.3px;"><span class="o">1</span>74<span class="o">1</span>43</div>
<div class="t m" style="left:193px;top:2610.3px;"><span class="o">1</span>4</div>
<div class="t m" style="left:290px;top:2610.3px;">Fuse(<span class="o">1</span>60 A)</div>
<div class="t s" style="left:290px;top:2651.3px;">Säkring; Sicherung; Fusible</div>
<div class="t m" style="left:1241px;top:2610.3px;"><span class="o">1</span></div>
<div class="t m" style="left:1337px;top:2610.3px;"><span class="o">1</span>73<span class="o">1</span>72-<span class="o">1</span>60</div>
<div class="t m" style="left:193px;top:2698.3px;"><span class="o">1</span>5</div>
<div class="t m" style="left:290px;top:2698.3px;">Cable(Complete)</div>
<div class="t s" style="left:290px;top:2739.3px;">Kabel(Komplett); Kabel(Komplett); Câble(Complet)</div>
<div class="t m" style="left:1241px;top:2698.3px;"><span class="o">1</span></div>
<div class="t m" style="left:1337px;top:2698.3px;"><span class="o">1</span>74<span class="o">1</span>49</div>
<div class="t m" style="left:1757px;top:2698.3px;">Pos. <span class="o11">11</span>+<span class="o">1</span>2+<span class="o">1</span>3</div>

<div class="r" style="left:168px;top:3229px;width:2044px;height:4px;"></div>
<div class="t" id="ft" style="left:1142px;top:3239.5px;font-size:41px;">© BT</div>
</body></html>
